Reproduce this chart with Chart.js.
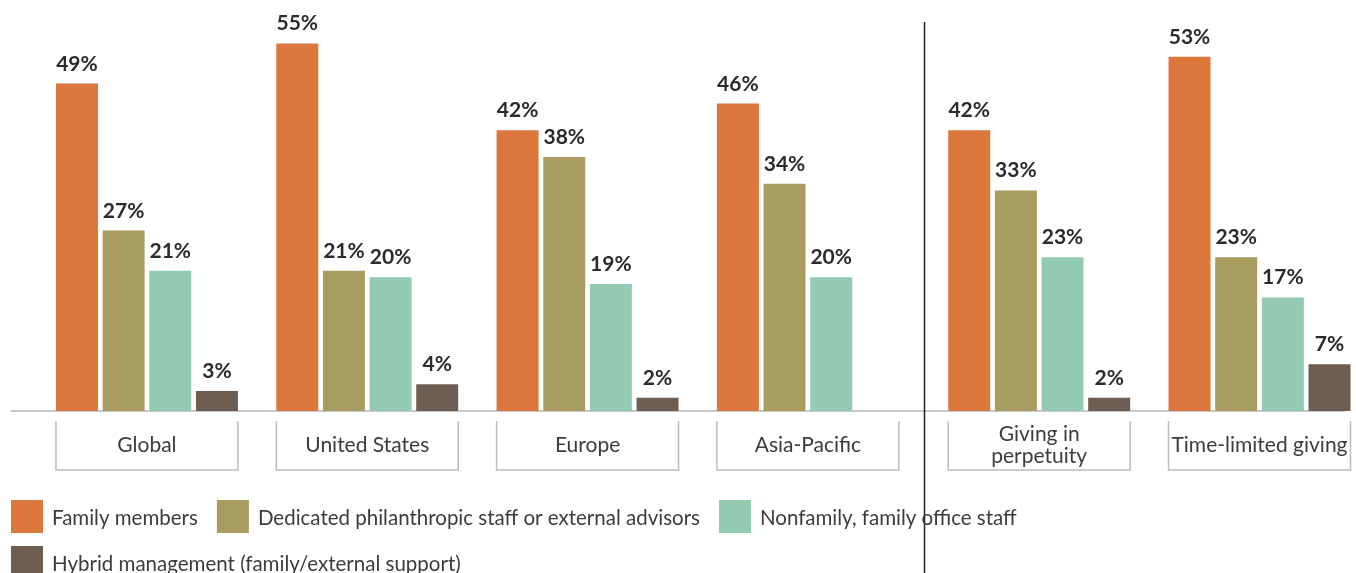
<!DOCTYPE html>
<html lang="en">
<head>
  <meta charset="UTF-8" />
  <meta name="viewport" content="width=device-width, initial-scale=1.0" />
  <title>Who manages the philanthropy</title>
  <script src="https://cdn.jsdelivr.net/npm/chart.js"></script>
  <style>
    html, body { margin: 0; padding: 0; background: #fff; }
    #contenedor { width: 1356px; height: 573px; position: relative; }
  </style>
</head>
<body>
  <div id="contenedor"><canvas id="grafico"></canvas></div>

  <script>
    const categories = ["Global", "United States", "Europe", "Asia-Pacific", ["Giving in", "perpetuity"], "Time-limited giving"];
    const seriesNames = [
      "Family members",
      "Dedicated philanthropic staff or external advisors",
      "Nonfamily, family office staff",
      "Hybrid management (family/external support)"
    ];
    const familyMembers = [49, 55, 42, 46, 42, 53];
    const dedicatedStaff = [27, 21, 38, 34, 33, 23];
    const nonfamilyStaff = [21, 20, 19, 20, 23, 17];
    const hybridManagement = [3, 4, 2, null, 2, 7];

    const colors = ["#db773d", "#a89c61", "#92cbb2", "#6e5d51"];
    const FONT = "Lato, 'Open Sans', sans-serif";

    // regions and fund types are split by a rule, so the last two groups sit a bit further right
    const SPLIT_AFTER = 3;
    const SPLIT_GAP = 0.05;
    const xPos = i => i + (i > SPLIT_AFTER ? SPLIT_GAP : 0);

    const allValues = [familyMembers, dedicatedStaff, nonfamilyStaff, hybridManagement];

    const decor = {
      id: "decor",
      beforeDatasetsDraw(chart) {
        const { ctx, chartArea, scales: { y } } = chart;
        const base = y.getPixelForValue(0);
        ctx.save();
        ctx.strokeStyle = "#c8c8c8";
        ctx.lineWidth = 2;
        ctx.beginPath();
        ctx.moveTo(chartArea.left + 11, base);
        ctx.lineTo(chartArea.right - 11, base);
        ctx.stroke();
        ctx.restore();
      },
      afterDatasetsDraw(chart) {
        const { ctx, scales: { x, y } } = chart;
        const base = y.getPixelForValue(0);
        ctx.save();

        // value labels
        ctx.font = "bold 21px " + FONT;
        ctx.fillStyle = "#2b2b2b";
        ctx.textAlign = "center";
        ctx.textBaseline = "alphabetic";
        chart.data.datasets.forEach((ds, di) => {
          chart.getDatasetMeta(di).data.forEach((bar, i) => {
            const v = ds.data[i].y;
            if (v == null) return;
            ctx.fillText(v + "%", bar.x, bar.y - 13);
          });
        });

        // category boxes
        const m0 = chart.getDatasetMeta(0).data;
        const m1 = chart.getDatasetMeta(1).data;
        ctx.strokeStyle = "#bdbdbd";
        ctx.lineWidth = 1.5;
        ctx.font = "21px " + FONT;
        ctx.fillStyle = "#3c3c3c";
        ctx.textBaseline = "middle";
        categories.forEach((cat, i) => {
          const stride = m1[i].x - m0[i].x;
          const left = m0[i].x - m0[i].width / 2;
          const right = left + 3 * stride + m0[i].width;
          const top = base + 10, bottom = base + 59;
          ctx.beginPath();
          ctx.moveTo(left, top);
          ctx.lineTo(left, bottom);
          ctx.lineTo(right, bottom);
          ctx.lineTo(right, top);
          ctx.stroke();
          const lines = Array.isArray(cat) ? cat : [cat];
          const mid = (top + bottom) / 2;
          lines.forEach((t, k) => {
            ctx.fillText(t, (left + right) / 2, mid + (k - (lines.length - 1) / 2) * 22);
          });
        });

        // separator between regions and fund types
        const sx = Math.round((x.getPixelForValue(xPos(SPLIT_AFTER)) + x.getPixelForValue(xPos(SPLIT_AFTER + 1))) / 2) + 0.5;
        ctx.strokeStyle = "#222";
        ctx.lineWidth = 1.5;
        ctx.beginPath();
        ctx.moveTo(sx, 22);
        ctx.lineTo(sx, chart.height);
        ctx.stroke();

        // legend
        ctx.font = "20.5px " + FONT;
        ctx.textAlign = "left";
        ctx.textBaseline = "middle";
        let lx = 11, ly = base + 89;
        chart.data.datasets.forEach(ds => {
          const w = 32 + 9 + ctx.measureText(ds.label).width;
          if (lx + w > chart.width - 11) { lx = 11; ly += 46; }
          ctx.fillStyle = ds.backgroundColor;
          ctx.fillRect(lx, ly, 32, 33);
          ctx.fillStyle = "#3c3c3c";
          ctx.fillText(ds.label, lx + 41, ly + 18);
          lx += w + 19;
        });
        ctx.restore();
      }
    };

    document.addEventListener("DOMContentLoaded", function () {
      const ctx = document.getElementById("grafico").getContext("2d");
      new Chart(ctx, {
        type: "bar",
        data: {
          datasets: allValues.map((vals, s) => ({
            label: seriesNames[s],
            data: vals.map((v, i) => ({ x: xPos(i), y: v })),
            backgroundColor: colors[s],
            borderWidth: 0,
            barPercentage: 0.9,
            categoryPercentage: 0.847
          }))
        },
        options: {
          responsive: true,
          maintainAspectRatio: false,
          animation: false,
          layout: { padding: { top: 10, bottom: 162, left: 0, right: 0 } },
          plugins: {
            legend: { display: false },
            tooltip: { enabled: false }
          },
          scales: {
            x: {
              type: "linear",
              display: false,
              offset: false,
              min: -0.667,
              max: 5.488,
              afterBuildTicks: s => { s.ticks = categories.map((c, i) => ({ value: xPos(i) })); },
              grid: { display: false }
            },
            y: {
              display: false,
              min: 0,
              max: 60,
              grid: { display: false }
            }
          }
        },
        plugins: [decor]
      });
    });
  </script>
</body>
</html>
